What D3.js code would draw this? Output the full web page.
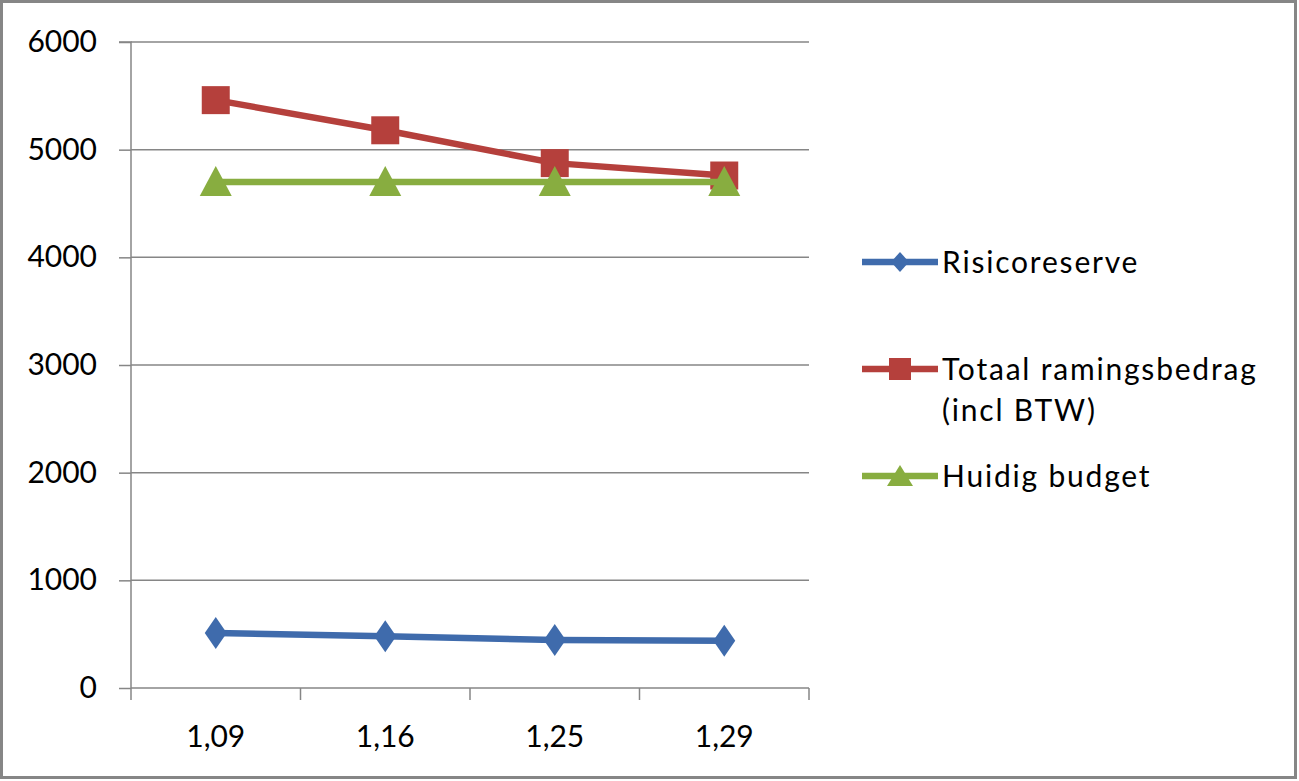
<!DOCTYPE html>
<html><head><meta charset="utf-8">
<script src="https://cdn.jsdelivr.net/npm/d3@7"></script>
<style>html,body{margin:0;padding:0;background:#fff;}svg{display:block;}</style>
</head><body>
<svg id="chart" width="1299" height="781"></svg>
<script>
const categories = ["1,09", "1,16", "1,25", "1,29"];
const risicoreserve = [510, 480, 445, 440];
const totaalRaming = [5460, 5180, 4875, 4760];
const huidigBudget = [4700, 4700, 4700, 4700];
const yTicks = [0, 1000, 2000, 3000, 4000, 5000, 6000];
const seriesNames = ["Risicoreserve", "Totaal ramingsbedrag (incl BTW)", "Huidig budget"];

const series = [
  {name: seriesNames[0], values: risicoreserve, color: "#3f6bac", marker: "diamond", legendLines: ["Risicoreserve"]},
  {name: seriesNames[1], values: totaalRaming, color: "#b5403c", marker: "square", legendLines: ["Totaal ramingsbedrag", "(incl BTW)"]},
  {name: seriesNames[2], values: huidigBudget, color: "#88ad40", marker: "triangle", legendLines: ["Huidig budget"]}
];

const svg = d3.select("#chart");
const font = "Lato, 'Open Sans', sans-serif";
const W = 1299, H = 781;

svg.append("rect").attr("x", 1.5).attr("y", 1.5).attr("width", W - 5).attr("height", H - 5)
  .attr("fill", "#fff").attr("stroke", "#868686").attr("stroke-width", 3);

const plot = {left: 131, right: 809, top: 42, bottom: 688};
const x = d3.scaleBand().domain(categories).range([plot.left, plot.right]);
const y = d3.scaleLinear().domain([0, 6000]).range([plot.bottom, plot.top]);

// gridlines
svg.append("g").selectAll("line").data(yTicks.filter(d => d > 0)).join("line")
  .attr("x1", plot.left).attr("x2", plot.right)
  .attr("y1", d => y(d)).attr("y2", d => y(d))
  .attr("stroke", "#868686").attr("stroke-width", 1.5);

// y axis
const yAxis = svg.append("g").attr("transform", `translate(${plot.left},0)`)
  .call(d3.axisLeft(y).tickValues(yTicks).tickSize(12).tickPadding(22).tickFormat(d3.format("d")));
yAxis.select(".domain").attr("stroke", "#868686").attr("stroke-width", 1.5).attr("d", `M-12,${plot.top}H0V${plot.bottom}`);
yAxis.selectAll(".tick line").attr("stroke", "#868686").attr("stroke-width", 1.5);
yAxis.selectAll(".tick text").attr("font-family", font).attr("font-size", 30).attr("fill", "#000");

// x axis
const xAxis = svg.append("g").attr("transform", `translate(0,${plot.bottom})`)
  .call(d3.axisBottom(x).tickSize(0).tickPadding(38));
xAxis.select(".domain").attr("stroke", "#868686").attr("stroke-width", 1.5).attr("d", `M${plot.left},0H${plot.right}`);
xAxis.selectAll(".tick text").attr("font-family", font).attr("font-size", 30).attr("fill", "#000");
// category boundary ticks
const bounds = categories.map(c => x(c)).concat([x(categories[categories.length - 1]) + x.bandwidth()]);
xAxis.append("g").selectAll("line").data(bounds).join("line")
  .attr("x1", d => d).attr("x2", d => d).attr("y1", 0).attr("y2", 12)
  .attr("stroke", "#868686").attr("stroke-width", 1.5);

function markerPath(type) {
  if (type === "diamond") return "M0,-16L11,0L0,16L-11,0Z";
  if (type === "square") return "M-14,-14H14V14H-14Z";
  return "M0,-16L16,14H-16Z";
}
function legendMarkerPath(type) {
  if (type === "diamond") return "M0,-10L9,0L0,10L-9,0Z";
  if (type === "square") return "M-11,-11H11V11H-11Z";
  return "M0,-11L13,10H-13Z";
}

const cx = c => x(c) + x.bandwidth() / 2;
const line = d3.line().x((d, i) => cx(categories[i])).y(d => y(d));

[0, 1, 2].forEach(si => {
  const s = series[si];
  const g = svg.append("g");
  g.append("path").attr("d", line(s.values)).attr("fill", "none")
    .attr("stroke", s.color).attr("stroke-width", 6.5).attr("stroke-linejoin", "round");
  g.selectAll("path.m").data(s.values).join("path").attr("class", "m")
    .attr("transform", (d, i) => `translate(${cx(categories[i])},${y(d)})`)
    .attr("d", markerPath(s.marker)).attr("fill", s.color);
});

// legend
const legendY = [262, 369, 476];
series.forEach((s, i) => {
  const g = svg.append("g").attr("transform", `translate(0,${legendY[i]})`);
  g.append("line").attr("x1", 862).attr("x2", 938).attr("y1", 0).attr("y2", 0)
    .attr("stroke", s.color).attr("stroke-width", 6.5);
  g.append("path").attr("transform", "translate(900,0)").attr("d", legendMarkerPath(s.marker)).attr("fill", s.color);
  const t = g.append("text").attr("x", 942).attr("y", 0).attr("font-family", font).attr("font-size", 30)
    .attr("letter-spacing", 1.8).attr("fill", "#000");
  s.legendLines.forEach((ln, j) => {
    t.append("tspan").attr("x", 942).attr("dy", j === 0 ? "0.35em" : 41).text(ln);
  });
});
</script>
</body></html>
